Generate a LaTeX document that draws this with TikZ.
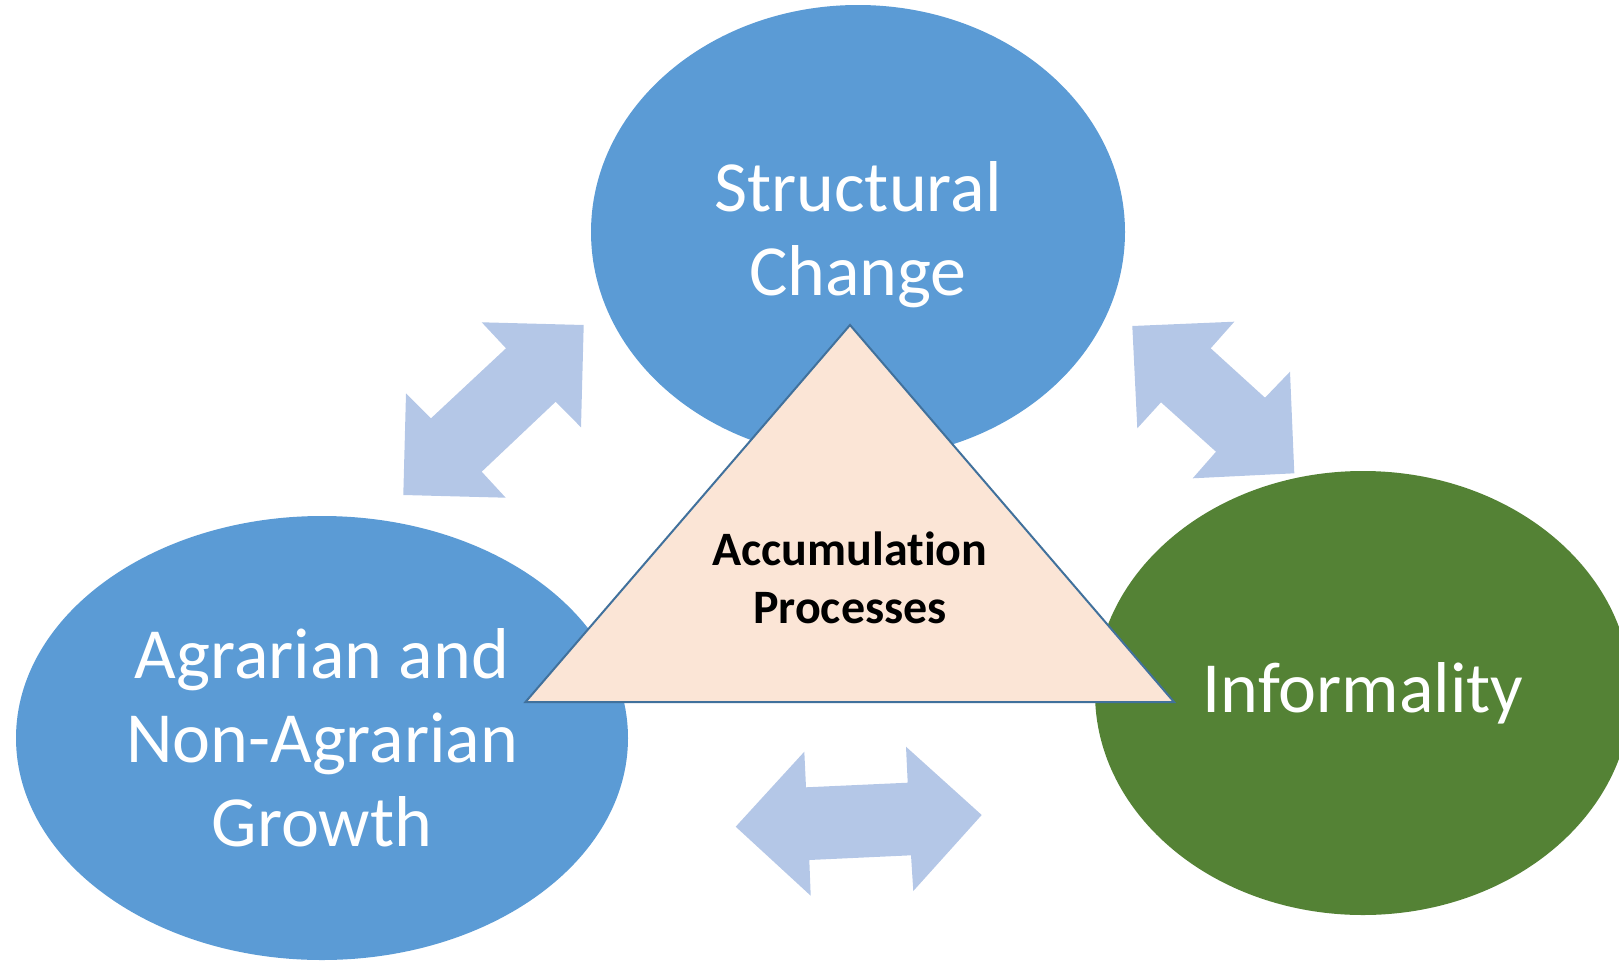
\documentclass[tikz,border=0pt]{standalone}
\usepackage{fontspec}
\setmainfont{Carlito}[Ligatures={NoCommon}]
\usetikzlibrary{shapes.geometric}
\definecolor{ovalblue}{HTML}{5B9BD5}
\definecolor{ovalgreen}{HTML}{548235}
\definecolor{trifill}{HTML}{FBE5D6}
\definecolor{triedge}{HTML}{41719C}
\definecolor{arrowblue}{HTML}{B4C7E7}
\begin{document}
\begin{tikzpicture}[x=1pt,y=-1pt,
  oval/.style={ellipse, inner sep=0pt, text=white, align=center,
    font=\fontsize{72}{84}\selectfont},
  dblarrow/.style={fill=arrowblue, draw=none},
  tri/.style={fill=trifill, draw=triedge, line width=2pt, line join=miter},
  centertext/.style={align=center, text=black, inner sep=0pt,
    font=\fontsize{48}{58}\selectfont\bfseries}]
\useasboundingbox (0,0) rectangle (1619,961);
\clip (0,0) rectangle (1619,961);
% ovals
\node[oval, fill=ovalblue, minimum width=534pt, minimum height=454pt, text depth=7pt] (sc) at (858,232) {Structural\\Change};
\node[oval, fill=ovalblue, minimum width=612pt, minimum height=444pt] (ag) at (322,738) {Agrarian and\\Non-Agrarian\\Growth};
\node[oval, fill=ovalgreen, minimum width=536pt, minimum height=444pt] (inf) at (1363,693) {Informality};
% double arrows
\fill[dblarrow] (583.7,325) -- (481.7,322.3) -- (506,348.3) -- (431,418.3) -- (406,393.3)
  -- (403.3,495) -- (505.7,497.7) -- (481.7,471.7) -- (555.7,401.7) -- (581,427.3) -- cycle;
\fill[dblarrow] (1132.3,326) -- (1234.3,321.7) -- (1210.7,348.3) -- (1265,397.7) -- (1290,371.7)
  -- (1294.3,473.3) -- (1192.7,478.3) -- (1216,451.7) -- (1161,402.3) -- (1137.3,428.3) -- cycle;
\fill[dblarrow] (735.7,826.7) -- (804.3,751.7) -- (806,787.3) -- (907.7,782.7) -- (906,746.7)
  -- (981.7,815) -- (913.3,891) -- (911,855.3) -- (809.3,860) -- (810.7,895.7) -- cycle;
% triangle
\coordinate (apex) at (850,325);
\coordinate (bright) at (1174,702);
\coordinate (bleft) at (525.5,702);
\draw[tri] (apex) -- (bright) -- (bleft) -- cycle;
\node[centertext] (acc) at (850,578) {Accumulation\\Processes};
\end{tikzpicture}
\end{document}
